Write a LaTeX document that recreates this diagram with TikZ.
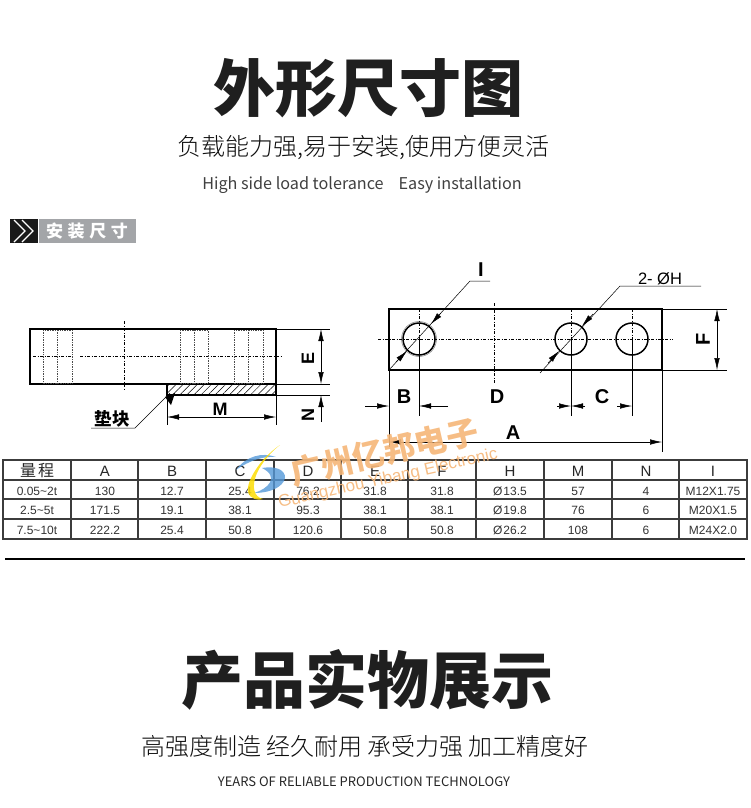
\documentclass[tikz,border=0pt]{standalone}
\usepackage{fontspec}
\usepackage{tikz}
\usetikzlibrary{arrows.meta,patterns.meta}
\setmainfont{Liberation Sans}
\newfontfamily\cjk{Noto Sans CJK SC}
\newfontfamily\cjklight{Noto Sans CJK SC Light}
\definecolor{wmark}{HTML}{F5B678}
\definecolor{tagbar}{HTML}{A3A5A8}
\definecolor{gridc}{HTML}{3C3C3C}
\begin{document}
\begin{tikzpicture}[x=1pt,y=-1pt,
    title/.style = {font=\cjk\bfseries\fontsize{62}{62}\selectfont, text=black!88},
    sub/.style = {font=\cjklight\fontsize{24}{24}\selectfont, text=black!95},
    eng/.style = {font=\cjk\fontsize{16.2}{17}\selectfont, text=black!75},
    dimlabel/.style = {font=\bfseries\fontsize{18}{18}\selectfont, inner sep=0pt},
    biglabel/.style = {font=\bfseries\fontsize{20}{20}\selectfont, inner sep=0pt},
    body/.style = {draw, line width=1.6pt},
    hole/.style = {draw, circle, line width=1.5pt, minimum size=32pt, inner sep=0pt},
    centerl/.style = {line width=.5pt, dash pattern=on 3pt off 1.5pt on 1pt off 1.5pt},
    hidden/.style = {line width=.7pt, black!70, densely dotted},
    thin/.style = {line width=.5pt},
    dimline/.style = {line width=.5pt, {Latex[length=12pt,width=5.5pt]}-{Latex[length=12pt,width=5.5pt]}},
    dimhead/.style = {line width=.5pt, -{Latex[length=12pt,width=5.5pt]}},
    head/.style = {font=\fontsize{15}{15}\selectfont, text=black!85, inner sep=0pt},
    cell/.style = {font=\fontsize{12}{12}\selectfont, text=black!80, inner sep=0pt},
    grid/.style = {draw=gridc, line width=1.1pt}]
\useasboundingbox (0,0) rectangle (750,808);

% headings
\node[title] (title1) at (368,88) {外形尺寸图};
\node[sub] (sub1) at (363,148) {负载能力强,易于安装,使用方便灵活};
\node[eng] (eng1) at (362,185) {High side load tolerance\hspace{15pt}Easy installation};

% tag
\fill[black!90] (10,219) rectangle (38,243);
\fill[tagbar] (39,219) rectangle (136,243);
\draw[white, line width=1.4pt] (14,220) -- (25,231) -- (14,242);
\draw[white, line width=1.4pt] (22,220) -- (33,231) -- (22,242);
\node[font=\cjk\bfseries\fontsize{17}{17}\selectfont, text=white, inner sep=0pt] (tag) at (87,231) {安\hspace{4.6pt}装\hspace{4.6pt}尺\hspace{4.6pt}寸};

% side view
\draw[body] (30,329) rectangle (276,384);
\fill[pattern={Lines[angle=45,distance=5pt,line width=.5pt]}] (167,384) rectangle (276,395);
\draw[body] (167,384) -- (167,395) -- (276,395) -- (276,384);
\draw[centerl] (124,321) -- (124,390);
\draw[centerl] (33,356) -- (72,356);
\draw[centerl] (80,356) -- (283,356);
\draw[hidden] (43,330) rectangle (72,383);
\draw[hidden] (57,330) -- (57,383);
\draw[hidden] (180,330) rectangle (208,383);
\draw[hidden] (194,330) -- (194,383);
\draw[hidden] (234,330) rectangle (263,383);
\draw[hidden] (248,330) -- (248,383);
\coordinate (e1) at (321,329);
\coordinate (e2) at (321,384);
\coordinate (n1) at (321,395);
\coordinate (n2) at (321,422);
\draw[thin] (276,329) -- (330,329);
\draw[thin] (276,384) -- (330,384);
\draw[thin] (276,395) -- (330,395);
\draw[dimline] (e1) -- (e2);
\draw[dimhead] (n2) -- (n1);
\node[dimlabel, rotate=90] (labE) at (308,358) {E};
\node[dimlabel, rotate=90] (labN) at (308,415) {N};
\coordinate (m1) at (167,417);
\coordinate (m2) at (276,417);
\draw[thin] (167,395) -- (167,425);
\draw[thin] (276,395) -- (276,425);
\draw[dimline] (m1) -- (m2);
\node[dimlabel] (labM) at (220,409) {M};
\node[font=\cjk\bfseries\fontsize{17.5}{17.5}\selectfont, inner sep=0pt] (pad) at (112,419) {垫块};
\draw[thin] (91,428) -- (135,428) -- (170,393);
\fill (165,397) -- (175,393) -- (171,405) -- cycle;

% top view
\draw[body] (389,309) rectangle (662,370);
\node[hole] (h1) at (419,339) {};
\node[hole] (h2) at (571,339) {};
\node[hole] (h3) at (632,339) {};
\draw[black!50, line width=.5pt] (h1) circle (17.5);
\draw[centerl] (378,339) -- (673,339);
\draw[centerl] (494,303) -- (494,383);
\draw[centerl] (419,309) -- (h1.center);
\draw[centerl] (571,309) -- (h2.center);
\draw[centerl] (632,309) -- (h3.center);
\draw[thin] (h1.center) -- (419,416);
\draw[thin] (h2.center) -- (571,416);
\draw[thin] (h3.center) -- (632,416);
\draw[thin] (389,370) -- (389,447);
\draw[thin] (662,370) -- (662,452);
\draw[thin] (662,309) -- (727,309);
\draw[thin] (662,370) -- (727,370);
\coordinate (f1) at (717,309);
\coordinate (f2) at (717,370);
\draw[dimline] (f1) -- (f2);
\node[biglabel, rotate=90] (labF) at (703,339) {F};
\draw[dimhead] (365,406) -- (389,406);
\draw[dimhead] (448,406) -- (419,406);
\draw[dimhead] (557,406) -- (571,406);
\draw[dimhead] (585,406) -- (571,406);
\draw[dimhead] (617,406) -- (632,406);
\node[biglabel] (labB) at (404,397) {B};
\node[biglabel] (labD) at (497,397) {D};
\node[biglabel] (labC) at (602,397) {C};
\coordinate (a1) at (389,442);
\coordinate (a2) at (662,442);
\draw[dimline] (a1) -- (a2);
\node[biglabel] (labA) at (513,433) {A};
\node[biglabel] (labI) at (481,270) {I};
\draw[thin] (490,281) -- (470,281) -- (389,370);
\draw[dimhead] (441,313) -- (431,324);
\draw[dimhead] (396,362) -- (407,351);
\node[font=\fontsize{16.5}{16.5}\selectfont, inner sep=0pt] (labH) at (660,279) {2- ØH};
\draw[thin] (701,286) -- (620,286) -- (540,373);
\draw[dimhead] (593,314) -- (582,326);
\draw[dimhead] (548,363) -- (559,351);

% table grid
\draw[grid] (3,460) rectangle (747,539);
\draw[grid] (3,480) -- (747,480);
\draw[grid] (3,499) -- (747,499);
\draw[grid] (3,519) -- (747,519);
\draw[grid] (71,460) -- (71,539);
\draw[grid] (138,460) -- (138,539);
\draw[grid] (206,460) -- (206,539);
\draw[grid] (274,460) -- (274,539);
\draw[grid] (341,460) -- (341,539);
\draw[grid] (408,460) -- (408,539);
\draw[grid] (476,460) -- (476,539);
\draw[grid] (544,460) -- (544,539);
\draw[grid] (612,460) -- (612,539);
\draw[grid] (679,460) -- (679,539);

% header row
\node[head, font=\cjk\fontsize{16}{16}\selectfont] (q0) at (37,471) {量\hspace{2pt}程};
\node[head] (a0) at (105,471) {A};
\node[head] (b0) at (172,471) {B};
\node[head] (c0) at (240,471) {C};
\node[head] (d0) at (308,471) {D};
\node[head] (e0) at (375,471) {E};
\node[head] (f0) at (442,471) {F};
\node[head] (h0) at (510,471) {H};
\node[head] (m0) at (578,471) {M};
\node[head] (n0) at (646,471) {N};
\node[head] (i0) at (713,471) {I};
% first row
\node[cell] (q1) at (37,491) {0.05\textasciitilde 2t};
\node[cell] (a1c) at (105,491) {130};
\node[cell] (b1) at (172,491) {12.7};
\node[cell] (c1) at (240,491) {25.4};
\node[cell] (d1) at (308,491) {76.2};
\node[cell] (e1c) at (375,491) {31.8};
\node[cell] (f1c) at (442,491) {31.8};
\node[cell] (h1c) at (510,491) {Ø\hspace{1pt}13.5};
\node[cell] (m1c) at (578,491) {57};
\node[cell] (n1c) at (646,491) {4};
\node[cell] (i1) at (713,491) {M12X1.75};
% second row
\node[cell] (q2) at (37,510) {2.5\textasciitilde 5t};
\node[cell] (a2c) at (105,510) {171.5};
\node[cell] (b2) at (172,510) {19.1};
\node[cell] (c2) at (240,510) {38.1};
\node[cell] (d2) at (308,510) {95.3};
\node[cell] (e2c) at (375,510) {38.1};
\node[cell] (f2c) at (442,510) {38.1};
\node[cell] (h2c) at (510,510) {Ø\hspace{1pt}19.8};
\node[cell] (m2c) at (578,510) {76};
\node[cell] (n2c) at (646,510) {6};
\node[cell] (i2) at (713,510) {M20X1.5};
% third row
\node[cell] (q3) at (37,530) {7.5\textasciitilde 10t};
\node[cell] (a3) at (105,530) {222.2};
\node[cell] (b3) at (172,530) {25.4};
\node[cell] (c3) at (240,530) {50.8};
\node[cell] (d3) at (308,530) {120.6};
\node[cell] (e3) at (375,530) {50.8};
\node[cell] (f3) at (442,530) {50.8};
\node[cell] (h3c) at (510,530) {Ø\hspace{1pt}26.2};
\node[cell] (m3) at (578,530) {108};
\node[cell] (n3) at (646,530) {6};
\node[cell] (i3) at (713,530) {M24X2.0};

% watermark
\fill[cyan!60!blue!70, opacity=.8] (236,470) .. controls (246,456) and (262,452) .. (276,457) .. controls (264,456) and (250,460) .. cycle;
\fill[cyan!60!blue!70, opacity=.8] (262,468) .. controls (280,465) and (288,473) .. (284,481) .. controls (279,490) and (265,493) .. (254,493) .. controls (268,489) and (280,477) .. cycle;
\fill[yellow!80!orange, opacity=.85] (280,445) .. controls (258,460) and (246,483) .. (248,492) .. controls (250,499) and (258,501) .. (263,499) .. controls (254,497) and (251,487) .. (257,473) .. controls (262,462) and (272,451) .. cycle;
\node[font=\cjk\bfseries\fontsize{32}{32}\selectfont, text=wmark, rotate=13, inner sep=0pt, opacity=.9] (wm1) at (384,452) {广州亿邦电子};
\node[font=\fontsize{17}{17}\selectfont, text=wmark, rotate=12.7, inner sep=0pt, opacity=.9] (wm2) at (388,479) {Guangzhou Yibang Electronic};

% rule
\draw[black, line width=1.4pt] (5,559) -- (745,559);

% lower headings
\node[title] (title2) at (367,680) {产品实物展示};
\node[sub] (sub2) at (365,746) {高强度制造 经久耐用 承受力强 加工精度好};
\node[font=\cjk\fontsize{13}{13}\selectfont, text=black!85] (eng2) at (364,782) {YEARS OF RELIABLE PRODUCTION TECHNOLOGY};
\end{tikzpicture}
\end{document}
